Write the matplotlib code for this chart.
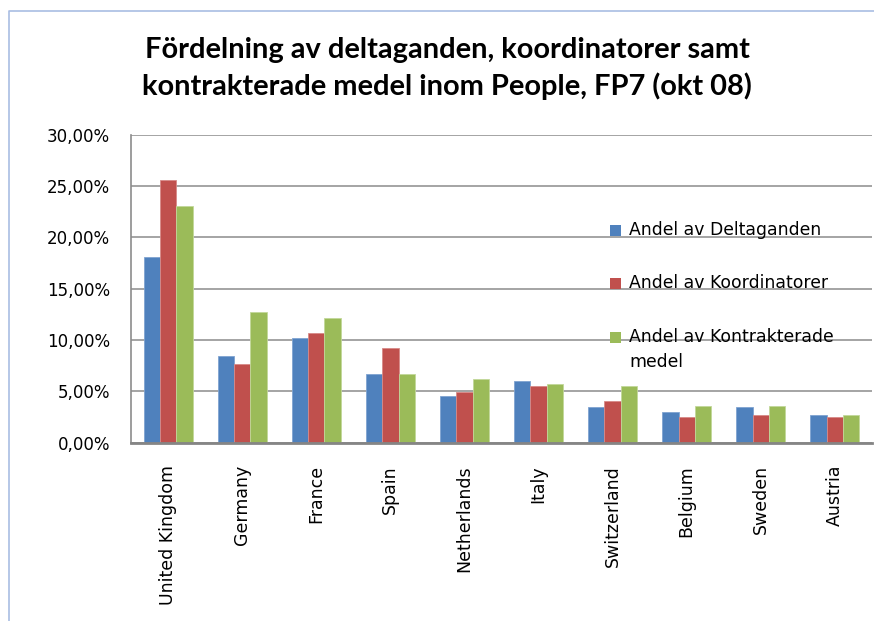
import matplotlib
matplotlib.use("Agg")
import matplotlib.pyplot as plt
import numpy as np
from matplotlib.patches import Rectangle
from matplotlib.ticker import FuncFormatter

countries = ["United Kingdom", "Germany", "France", "Spain", "Netherlands",
             "Italy", "Switzerland", "Belgium", "Sweden", "Austria"]
deltaganden = [18.05, 8.44, 10.19, 6.66, 4.58, 6.00, 3.48, 2.99, 3.48, 2.67]
koordinatorer = [25.58, 7.63, 10.68, 9.22, 4.90, 5.55, 4.09, 2.50, 2.67, 2.50]
kontrakterade = [23.02, 12.76, 12.11, 6.66, 6.17, 5.72, 5.55, 3.60, 3.60, 2.67]
series_names = ["Andel av Deltaganden", "Andel av Koordinatorer",
                "Andel av Kontrakterade\nmedel"]
title_lines = ["Fördelning av deltaganden, koordinatorer samt",
               "kontrakterade medel inom People, FP7 (okt 08)"]
colors = ["#4F81BD", "#C0504D", "#9BBB59"]
edges = ["#7fa3d1", "#d78a88", "#c2d89a"]

plt.rcParams["font.family"] = "DejaVu Sans"

fig = plt.figure(figsize=(8.74, 6.21), dpi=100)
ax = fig.add_axes([0.1499, 0.2871, 0.8478, 0.4960])

x = np.arange(len(countries))
w = 0.22
for i, (vals, c, e) in enumerate(zip([deltaganden, koordinatorer, kontrakterade], colors, edges)):
    ax.bar(x + (i - 1) * w, vals, w, color=c, edgecolor=e, linewidth=0.6, zorder=3)

ax.set_xlim(-0.5, len(countries) - 0.5)
ax.set_ylim(0, 30)
ax.set_yticks(np.arange(0, 31, 5))
ax.yaxis.set_major_formatter(FuncFormatter(lambda v, p: f"{v:.2f}%".replace(".", ",")))
ax.set_xticks(x)
ax.set_xticklabels(countries, rotation=90, fontsize=12.5)
ax.tick_params(axis="y", length=0, pad=15, labelsize=12)
ax.tick_params(axis="x", length=0, pad=16)
ax.grid(True, axis="y", color="#8c8c8c", linewidth=1.1, zorder=0)
for s in ["top", "right"]:
    ax.spines[s].set_visible(False)
ax.spines["left"].set_color("#8c8c8c")
ax.spines["left"].set_linewidth(1.2)
ax.spines["bottom"].set_color("#858585")
ax.spines["bottom"].set_linewidth(2.0)
ax.spines["bottom"].set_zorder(4)

# legend drawn by hand to keep the square on the first line
leg_y = [230.7, 283.3, 337.3]
for name, c, yy in zip(series_names, colors, leg_y):
    fy = 1 - yy / 621
    fig.patches.append(Rectangle((610 / 874, fy - 5.5 / 621), 11 / 874, 11 / 621,
                                 transform=fig.transFigure, facecolor=c,
                                 edgecolor="none", zorder=5))
    fig.text(629 / 874, fy + 9.5 / 621, name, ha="left", va="top", fontsize=12.4,
             linespacing=1.5)

for line, base in zip(title_lines, [58.3, 95]):
    fig.text(447 / 874, 1 - base / 621, line, ha="center", va="baseline",
             fontsize=20.9, fontweight="bold", family="Lato")

# chart frame
fig.lines.append(plt.Line2D([9 / 874, 9 / 874, 1.0], [0.0, 1 - 11 / 621, 1 - 11 / 621],
                            transform=fig.transFigure, color="#a9bde3", linewidth=1.2))

fig.savefig("out.png", dpi=100)
